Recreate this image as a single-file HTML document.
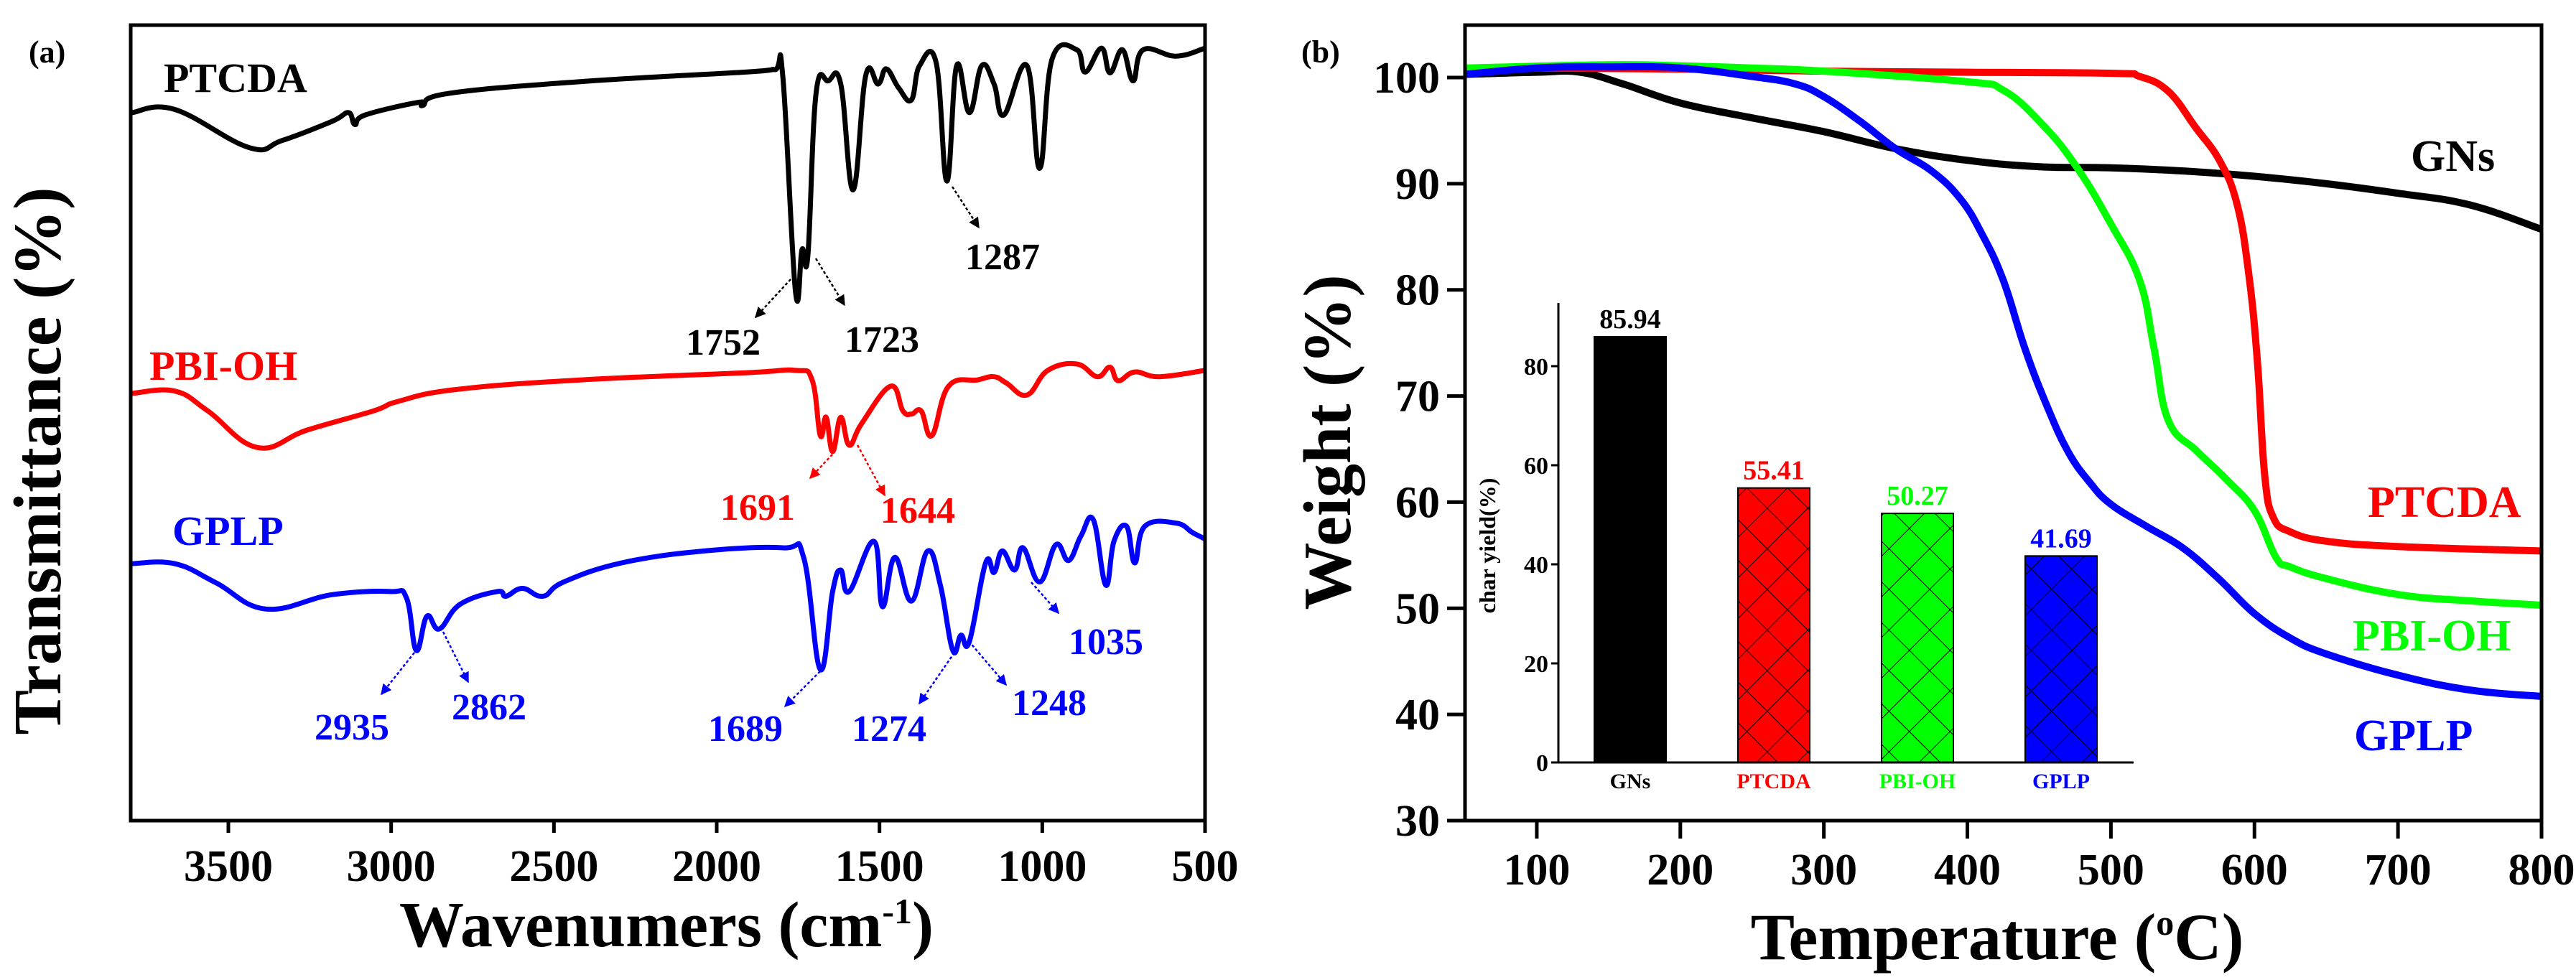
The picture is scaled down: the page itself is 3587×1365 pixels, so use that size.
<!DOCTYPE html>
<html><head><meta charset="utf-8"><style>
body{margin:0;background:#fff}
svg,svg text{font-family:"Liberation Serif","DejaVu Serif",serif;font-weight:bold}
</style></head><body>
<svg id="c" width="3587" height="1360" viewBox="0 0 3587 1360" xmlns="http://www.w3.org/2000/svg" font-family="Liberation Serif, DejaVu Serif, serif" font-weight="bold">
<defs>
<pattern id="hatch" width="40" height="40" patternUnits="userSpaceOnUse" patternTransform="rotate(45)">
<line x1="0" y1="0" x2="0" y2="40" stroke="#000" stroke-width="2"/><line x1="0" y1="0" x2="40" y2="0" stroke="#000" stroke-width="2"/>
</pattern>
<marker id="ahk" viewBox="0 0 10 10" refX="9" refY="5" markerWidth="6" markerHeight="6" orient="auto"><path d="M0,0L10,5L0,10z" fill="#000"/></marker>
<marker id="ahr" viewBox="0 0 10 10" refX="9" refY="5" markerWidth="6" markerHeight="6" orient="auto"><path d="M0,0L10,5L0,10z" fill="#f00"/></marker>
<marker id="ahb" viewBox="0 0 10 10" refX="9" refY="5" markerWidth="6" markerHeight="6" orient="auto"><path d="M0,0L10,5L0,10z" fill="#00f"/></marker>
</defs>
<g id="pa"></g>
<g id="pb"></g>
</svg>
<script>
// ---- FTIR data (panel a) ----
const ftirTicks=[3500,3000,2500,2000,1500,1000,500];
const ptcdaWn=[3797,3665,3436,3335,3182,3131,3111,3080,2915,2903,2826,2419,1911,1822,1797,1758,1738,1720,1695,1657,1619,1581,1542,1504,1479,1441,1402,1377,1326,1293,1263,1224,1186,1148,1118,1047,1008,970,894,868,818,792,754,721,690,589,500];
const ptcdaT=[89.0,89.4,84.6,85.5,87.9,89.0,87.5,88.7,90.3,89.9,91.4,92.9,94.1,94.4,93.6,66.5,71.8,71.0,91.4,93.0,92.6,79.3,93.7,92.6,94.5,92.1,90.6,94.9,95.3,80.4,94.9,89.0,94.9,92.6,88.7,94.9,82.0,95.7,96.9,94.1,97.1,94.0,96.9,93.0,96.9,96.1,97.1];
const pbiWn=[3797,3665,3563,3411,3258,3055,2979,2801,2419,1911,1758,1707,1682,1664,1644,1619,1593,1555,1466,1428,1402,1372,1339,1288,1199,1148,1110,1047,983,894,831,792,767,716,640,500];
const pbiT=[53.7,54.0,51.5,46.9,49.1,51.5,52.7,54.2,55.4,56.3,56.6,55.4,48.4,50.7,46.4,50.7,47.2,49.9,54.6,51.5,51.1,51.5,48.4,54.6,55.4,55.8,55.0,53.5,56.6,57.4,55.8,57.0,55.3,56.4,55.8,56.6];
const gplpWn=[3797,3665,3538,3385,3182,3004,2953,2923,2890,2852,2788,2674,2648,2597,2534,2470,2292,2038,1796,1733,1682,1644,1619,1593,1517,1491,1453,1402,1352,1313,1275,1250,1224,1174,1148,1123,1085,1059,1008,958,919,881,843,805,780,741,716,685,589,538,500];
const gplpT=[32.3,32.3,29.9,26.6,28.4,28.8,28.0,21.4,25.7,24.1,27.2,28.8,28.2,29.2,28.2,30.0,32.4,33.9,34.3,33.1,19.0,28.8,31.5,28.8,35.1,26.9,33.1,27.6,33.9,29.6,21.4,23.3,22.5,32.4,31.2,33.9,31.5,34.3,30.0,34.7,32.7,35.8,37.8,29.6,35.1,37.0,32.4,37.0,37.4,36.2,35.4];
// ---- TGA data (panel b) ----
const tgaTicksX=[100,200,300,400,500,600,700,800];
const tgaTicksY=[30,40,50,60,70,80,90,100];
const gnsX=[50,100,130,160,200,250,300,350,400,450,500,550,600,650,700,750,800];
const gnsY=[100.3,100.5,100.5,99.4,97.6,96.2,94.9,93.3,92.2,91.6,91.5,91.2,90.7,90.0,89.1,88.0,85.7];
const ptX=[50,100,200,300,400,501,520,540,559,576,588,596,602,607,613,625,651,703,800];
const ptY=[100.8,100.9,100.8,100.6,100.5,100.4,100.1,98.7,95.3,92.1,88.0,81.5,73.3,62.7,58.6,57.2,56.3,55.8,55.4];
const pbX=[50,150,200,250,300,400,425,450,475,500,520,530,540,560,580,600,615,625,650,700,750,800];
const pbY=[100.9,101.2,101.1,100.9,100.6,99.6,98.8,95.9,91.8,86.2,80.9,74.5,67.7,64.8,62.2,59.2,54.8,53.9,52.8,51.3,50.7,50.3];
const gpX=[50,100,150,200,250,280,300,325,350,375,395,410,425,440,455,470,485,500,525,550,575,600,625,650,700,750,800];
const gpY=[100.3,100.9,101.0,100.9,100.1,99.4,98.2,95.9,93.3,91.2,88.6,85.3,80.9,74.5,69.2,64.8,61.9,59.8,57.7,55.7,52.8,49.5,47.2,45.7,43.7,42.3,41.7];
// ---- inset bar data ----
const barCats=["GNs","PTCDA","PBI-OH","GPLP"];
const barVals=[85.94,55.41,50.27,41.69];
const barLabels=["85.94","55.41","50.27","41.69"];
const insetTicks=[0,20,40,60,80];

const NS="http://www.w3.org/2000/svg";
const FF="Liberation Serif, DejaVu Serif, serif";
function mk(p,t,a,txt){const e=document.createElementNS(NS,t);for(const k in a)e.setAttribute(k,a[k]);if(t==='text'){e.setAttribute('font-family',FF);e.setAttribute('font-weight','bold');}if(txt!==undefined)e.textContent=txt;p.appendChild(e);return e;}
function smooth(pts){
  let d='M'+pts[0][0].toFixed(1)+','+pts[0][1].toFixed(1);
  for(let i=0;i<pts.length-1;i++){
    const p0=pts[Math.max(0,i-1)],p1=pts[i],p2=pts[i+1],p3=pts[Math.min(pts.length-1,i+2)];
    const t=0.2;
    const c1=[p1[0]+(p2[0]-p0[0])*t,p1[1]+(p2[1]-p0[1])*t];
    const c2=[p2[0]-(p3[0]-p1[0])*t,p2[1]-(p3[1]-p1[1])*t];
    d+='C'+c1[0].toFixed(1)+','+c1[1].toFixed(1)+' '+c2[0].toFixed(1)+','+c2[1].toFixed(1)+' '+p2[0].toFixed(1)+','+p2[1].toFixed(1);
  }
  return d;
}
const pa=document.getElementById('pa'),pb=document.getElementById('pb');

// panel a axes
const ax=v=>182+(3800-v)*(1496/3300);
const ay=v=>1143-v*11.08;
function ftir(wn,t,col,name){
  const d=smooth(wn.map((w,i)=>[ax(w),ay(t[i])]));
  const e=mk(pa,'path',{d:d,fill:'none',stroke:col,'stroke-width':7,'stroke-linejoin':'round'});
  
  
}
ftir(ptcdaWn,ptcdaT,'#000','ptcda-spectrum');
ftir(pbiWn,pbiT,'#f00','pbi-oh-spectrum');
ftir(gplpWn,gplpT,'#00f','gplp-spectrum');
let fr=mk(pa,'rect',{x:182,y:35,width:1496,height:1108,fill:'none',stroke:'#000','stroke-width':5});


ftirTicks.forEach(v=>{
  mk(pa,'line',{x1:ax(v),x2:ax(v),y1:1143,y2:1160,stroke:'#000','stroke-width':5});
  const t=mk(pa,'text',{x:ax(v),y:1227,'font-size':62,'text-anchor':'middle'},String(v));
  
  
});
function txt(p,x,y,s,col,size,name,anchor){const t=mk(p,'text',{x:x,y:y,'font-size':size,fill:col,'text-anchor':anchor||'start'},s);
  
  
  return t;}
txt(pa,40,87,'(a)','#000',44,'panel-label-a');
txt(pa,228,128,'PTCDA','#000',58,'label-ptcda');
txt(pa,208,529,'PBI-OH','#f00',58,'label-pbi-oh');
txt(pa,240,759,'GPLP','#00f',58,'label-gplp');
const ann=[['1752',955,494,1101,389,1052,442,'#000','k'],['1723',1176,490,1136,360,1176,425,'#000','k'],['1287',1344,375,1326,260,1363,317,'#000','k'],
['1691',1003,724,1159,633,1128,666,'#f00','r'],['1644',1226,728,1194,620,1232,690,'#f00','r'],
['2935',438,1030,577,909,531,967,'#00f','b'],['2862',629,1002,617,880,652,950,'#00f','b'],['1689',986,1032,1142,935,1093,984,'#00f','b'],
['1274',1186,1032,1329,909,1280,980,'#00f','b'],['1248',1409,996,1349,893,1401,954,'#00f','b'],['1035',1488,911,1436,811,1474,854,'#00f','b']];
ann.forEach(a=>{
  const l=mk(pa,'line',{x1:a[3],y1:a[4],x2:a[5],y2:a[6],stroke:a[7],'stroke-width':2.5,'stroke-dasharray':'4,3','marker-end':'url(#ah'+a[8]+')'});
  
  
  txt(pa,a[1],a[2],a[0],a[7],52,'peak-label-'+a[0]);
});
let tt=mk(pa,'text',{x:928,y:1318,'font-size':90,'text-anchor':'middle'});


tt.innerHTML='Wavenumers (cm<tspan dy="-32" font-size="50">-1</tspan><tspan dy="32">)</tspan>';
let yt=mk(pa,'text',{x:0,y:0,'font-size':94,'text-anchor':'middle',transform:'translate(84,642) rotate(-90)'},'Transmittance (%)');



// panel b axes
const bx=v=>2040+(v-50)*(1499/750);
const by=v=>1143-(v-30)*(1035/70);
function tga(xs,ys,col,name){
  const d=smooth(xs.map((x,i)=>[bx(x),by(ys[i])]));
  const e=mk(pb,'path',{d:d,fill:'none',stroke:col,'stroke-width':10,'stroke-linejoin':'round'});
  
  
}
tga(gnsX,gnsY,'#000','gns-curve');
tga(ptX,ptY,'#f00','ptcda-curve');
tga(pbX,pbY,'#0f0','pbi-oh-curve');
tga(gpX,gpY,'#00f','gplp-curve');
fr=mk(pb,'rect',{x:2040,y:35,width:1499,height:1108,fill:'none',stroke:'#000','stroke-width':5});


tgaTicksX.forEach(v=>{
  mk(pb,'line',{x1:bx(v),x2:bx(v),y1:1143,y2:1168,stroke:'#000','stroke-width':5});
  txt(pb,bx(v),1232,String(v),'#000',62,'x-tick-label-b','middle');
});
tgaTicksY.forEach(v=>{
  mk(pb,'line',{x1:2015,x2:2040,y1:by(v),y2:by(v),stroke:'#000','stroke-width':5});
  txt(pb,2005,by(v)+21,String(v),'#000',62,'y-tick-label-b','end');
});
txt(pb,1812,87,'(b)','#000',44,'panel-label-b');
txt(pb,3357,238,'GNs','#000',62,'label-gns');
txt(pb,3297,720,'PTCDA','#f00',62,'label-ptcda-b');
txt(pb,3276,906,'PBI-OH','#0f0',62,'label-pbi-oh-b');
txt(pb,3278,1045,'GPLP','#00f',62,'label-gplp-b');
tt=mk(pb,'text',{x:2781,y:1336,'font-size':92,'text-anchor':'middle'});


tt.innerHTML='Temperature (<tspan dy="-34" font-size="50">o</tspan><tspan dy="34">C)</tspan>';
yt=mk(pb,'text',{x:0,y:0,'font-size':94,'text-anchor':'middle',transform:'translate(1880,616) rotate(-90)'},'Weight (%)');



// inset
const ix0=2170,ix1=2971,band=(ix1-ix0-1)/4;
const iy=v=>1062-v*(552/80);
const cols=['#000','#f00','#0f0','#00f'];
barCats.forEach((c,i)=>{
  const cx=ix0+band*(i+0.5),w=100;
  const r=mk(pb,'rect',{x:cx-w/2,y:iy(barVals[i]),width:w,height:1062-iy(barVals[i]),fill:cols[i],stroke:'#000','stroke-width':2});
  
  
  if(i>0){const h=mk(pb,'rect',{x:cx-w/2,y:iy(barVals[i]),width:w,height:1062-iy(barVals[i]),fill:'url(#hatch)'});
    
    }
  txt(pb,cx,iy(barVals[i])-12,barLabels[i],cols[i],38,'bar-value-label','middle');
  txt(pb,cx,1098,c,cols[i],30,'inset-category-label','middle');
});
mk(pb,'line',{x1:ix0,x2:ix0,y1:422,y2:1063,stroke:'#000','stroke-width':3});
mk(pb,'line',{x1:ix0,x2:ix1,y1:1062,y2:1062,stroke:'#000','stroke-width':3});
insetTicks.forEach(v=>{
  mk(pb,'line',{x1:ix0-10,x2:ix0,y1:iy(v),y2:iy(v),stroke:'#000','stroke-width':3});
  txt(pb,ix0-14,iy(v)+12,String(v),'#000',34,'inset-y-tick-label','end');
});
yt=mk(pb,'text',{x:0,y:0,'font-size':32,'text-anchor':'middle',transform:'translate(2082,760) rotate(-90)'},'char yield(%)');


</script>
</body></html>
